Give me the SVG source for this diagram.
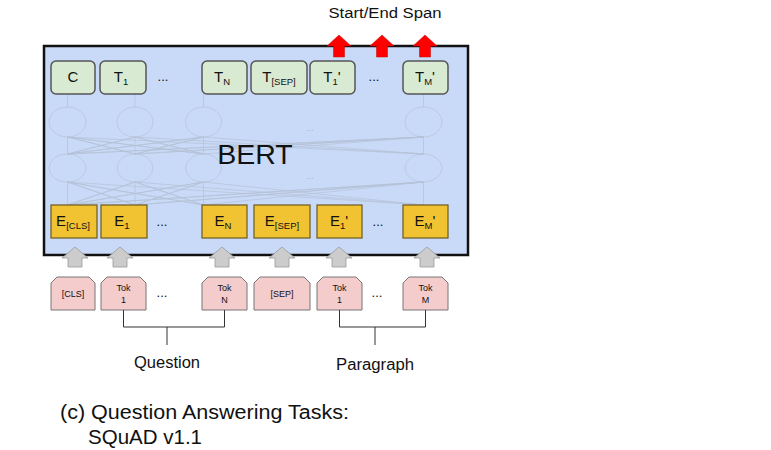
<svg xmlns="http://www.w3.org/2000/svg" width="771" height="450" viewBox="0 0 771 450">
<style>
text{font-family:"Liberation Sans",Arial,sans-serif;fill:#111}
.g{fill:#d9ead3;stroke:#555;stroke-width:1.5}
.y{fill:#f1c232;stroke:#6b5a1e;stroke-width:1.2}
.p{fill:#f4cccc;stroke:#777;stroke-width:1}
.lbl{font-size:15px;text-anchor:middle}
.sub{font-size:9.5px}
.tok{font-size:9px;text-anchor:middle}
.dots{font-size:13px;text-anchor:middle}
.faint{fill:none;stroke:#b5c1d6;stroke-width:0.7}
.red{fill:#ff0000;stroke:#cc0000;stroke-width:0.5}
.gray{fill:#cccccc;stroke:#999;stroke-width:0.8}
.br{fill:none;stroke:#333;stroke-width:1}
</style>
<rect width="771" height="450" fill="#fff"/>
<text x="385" y="18" font-size="15.5" text-anchor="middle" textLength="113" lengthAdjust="spacingAndGlyphs">Start/End Span</text>
<g id="bert">
<rect x="44" y="46" width="424" height="209" fill="#c9daf8" stroke="#111" stroke-width="2.5"/>
<g class="faint">
<ellipse cx="67.5" cy="122" rx="18.5" ry="15"/><ellipse cx="135" cy="122" rx="18" ry="15"/><ellipse cx="203.5" cy="122" rx="18" ry="15"/><ellipse cx="423.5" cy="122" rx="18.5" ry="15"/>
<ellipse cx="67.5" cy="168" rx="18.5" ry="14"/><ellipse cx="135" cy="168" rx="18" ry="14"/><ellipse cx="203.5" cy="168" rx="18" ry="14"/><ellipse cx="423.5" cy="168" rx="18.5" ry="14"/>
<path d="M67.5 94V107M135 94V107M203.5 94V107M423.5 94V107"/>
<path d="M67.5 154L67.5 137L135 154L67.5 137L203.5 154L67.5 137L423.5 154M135 154L135 137L67.5 154L135 137L203.5 154L135 137L423.5 154M203.5 154L203.5 137L67.5 154L203.5 137L135 154L203.5 137L423.5 154M423.5 154L423.5 137L67.5 154L423.5 137L135 154L423.5 137L203.5 154"/>
<path d="M67.5 205L67.5 182L135 205L67.5 182L203.5 205L67.5 182L423.5 205M135 205L135 182L67.5 205L135 182L203.5 205L135 182L423.5 205M203.5 205L203.5 182L67.5 205L203.5 182L135 205L203.5 182L423.5 205M423.5 205L423.5 182L67.5 205L423.5 182L135 205L423.5 182L203.5 205"/>
</g>
<text x="310" y="131" font-size="9" style="fill:#a9b4c8" text-anchor="middle">...</text>
<text x="310" y="179" font-size="9" style="fill:#a9b4c8" text-anchor="middle">...</text>
<text x="255" y="164" font-size="28.5" text-anchor="middle">BERT</text>
</g>
<g id="out-C"><rect class="g" x="51" y="61" width="44" height="33" rx="5"/><text class="lbl" x="73" y="82">C</text></g>
<g id="out-T1"><rect class="g" x="100" y="61" width="46" height="33" rx="5"/><text class="lbl" x="121" y="82">T<tspan class="sub" dy="3">1</tspan></text></g>
<text class="dots" x="163" y="81">...</text>
<g id="out-TN"><rect class="g" x="202" y="61" width="45" height="33" rx="5"/><text class="lbl" x="222" y="82">T<tspan class="sub" dy="3">N</tspan></text></g>
<g id="out-TSEP"><rect class="g" x="251" y="61" width="56" height="33" rx="5"/><text class="lbl" x="279" y="82">T<tspan class="sub" dy="3">[SEP]</tspan></text></g>
<g id="out-T1p"><rect class="g" x="310" y="61" width="45" height="33" rx="5"/><text class="lbl" x="332" y="82">T<tspan class="sub" dy="3">1</tspan><tspan dy="-3">'</tspan></text></g>
<text class="dots" x="374" y="81">...</text>
<g id="out-TMp"><rect class="g" x="403" y="61" width="45" height="33" rx="5"/><text class="lbl" x="425" y="82">T<tspan class="sub" dy="3">M</tspan><tspan dy="-3">'</tspan></text></g>
<g id="emb-CLS"><rect class="y" x="51" y="205" width="46" height="33"/><text class="lbl" x="73" y="226">E<tspan class="sub" dy="3">[CLS]</tspan></text></g>
<g id="emb-1"><rect class="y" x="101" y="205" width="46" height="33"/><text class="lbl" x="122" y="226">E<tspan class="sub" dy="3">1</tspan></text></g>
<text class="dots" x="162" y="226">...</text>
<g id="emb-N"><rect class="y" x="202" y="205" width="45" height="33"/><text class="lbl" x="223" y="226">E<tspan class="sub" dy="3">N</tspan></text></g>
<g id="emb-SEP"><rect class="y" x="254" y="205" width="56" height="33"/><text class="lbl" x="282" y="226">E<tspan class="sub" dy="3">[SEP]</tspan></text></g>
<g id="emb-1p"><rect class="y" x="317" y="205" width="45" height="33"/><text class="lbl" x="339" y="226">E<tspan class="sub" dy="3">1</tspan><tspan dy="-3">'</tspan></text></g>
<text class="dots" x="378" y="226">...</text>
<g id="emb-Mp"><rect class="y" x="403" y="205" width="45" height="33"/><text class="lbl" x="425" y="226">E<tspan class="sub" dy="3">M</tspan><tspan dy="-3">'</tspan></text></g>
<g id="tok-CLS"><path class="p" d="M51 310V283L57 277H89L95 283V310Z"/><text class="tok" x="73" y="297">[CLS]</text></g>
<g id="tok-1"><path class="p" d="M101 310V283L107 277H140L146 283V310Z"/><text class="tok" x="123.5" y="291">Tok</text><text class="tok" x="123.5" y="303">1</text></g>
<text class="dots" x="162" y="297">...</text>
<g id="tok-N"><path class="p" d="M202 310V283L208 277H241L247 283V310Z"/><text class="tok" x="224.5" y="291">Tok</text><text class="tok" x="224.5" y="303">N</text></g>
<g id="tok-SEP"><path class="p" d="M254 310V283L260 277H304L310 283V310Z"/><text class="tok" x="282" y="297">[SEP]</text></g>
<g id="tok-1p"><path class="p" d="M317 310V283L323 277H356L362 283V310Z"/><text class="tok" x="339.5" y="291">Tok</text><text class="tok" x="339.5" y="303">1</text></g>
<text class="dots" x="377" y="297">...</text>
<g id="tok-M"><path class="p" d="M403 310V283L409 277H442L448 283V310Z"/><text class="tok" x="425.5" y="291">Tok</text><text class="tok" x="425.5" y="303">M</text></g>
<g id="connectors">
<g class="red">
<path d="M333.5 57V46H327L339 35L351 46H344.5V57Z"/>
<path d="M376.5 57V46H370L382 35L394 46H387.5V57Z"/>
<path d="M419.5 57V46H413L425 35L437 46H430.5V57Z"/>
</g>
<g class="gray">
<path d="M68 267V258H62L75 247L88 258H82V267Z"/>
<path d="M113 267V258H107L120 247L133 258H127V267Z"/>
<path d="M215 267V258H209L222 247L235 258H229V267Z"/>
<path d="M275 267V258H269L282 247L295 258H289V267Z"/>
<path d="M332 267V258H326L339 247L352 258H346V267Z"/>
<path d="M420 267V258H414L427 247L440 258H434V267Z"/>
</g>
<path class="br" d="M123.5 310V327H224.5V310M167 327V345"/>
<path class="br" d="M339.5 310V327H425.5V310M375 327V345"/>
</g>
<text x="167" y="368" font-size="16" text-anchor="middle" textLength="66" lengthAdjust="spacingAndGlyphs">Question</text>
<text x="375" y="370" font-size="16" text-anchor="middle" textLength="78" lengthAdjust="spacingAndGlyphs">Paragraph</text>
<text x="60" y="419" font-size="20" textLength="289" lengthAdjust="spacingAndGlyphs">(c) Question Answering Tasks:</text>
<text x="88" y="444" font-size="20" textLength="114" lengthAdjust="spacingAndGlyphs">SQuAD v1.1</text>
</svg>
